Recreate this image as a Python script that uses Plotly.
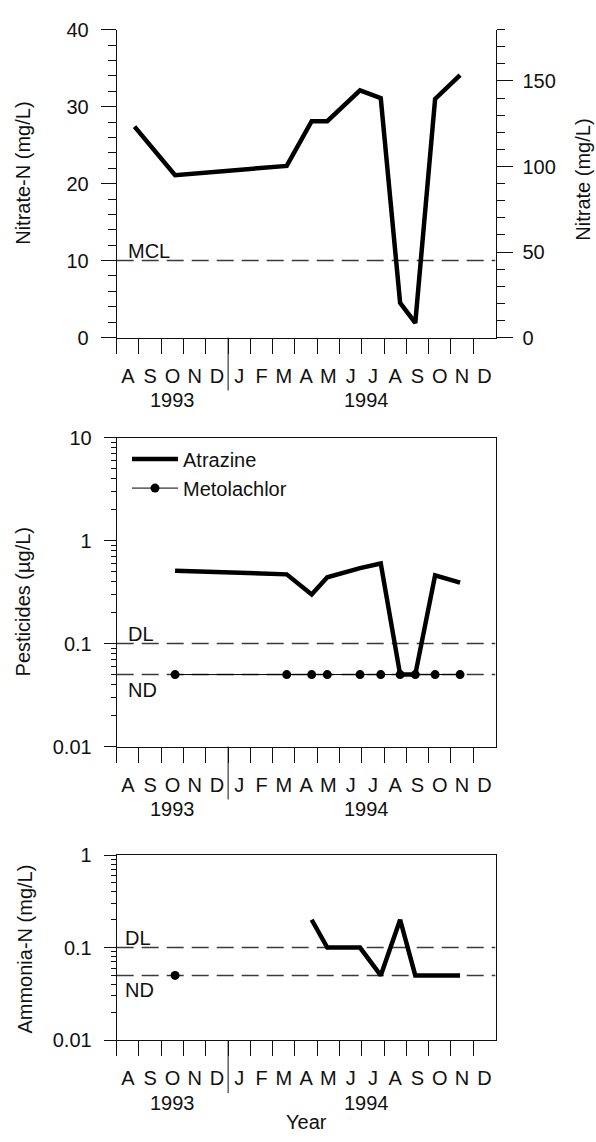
import math
import plotly.graph_objects as go

W, H = 596, 1142
FONT = "Liberation Sans, Arial, Helvetica, sans-serif"
INK = "#111111"
DASH = "#3a3a3a"
FS = 20

# ---------------- data ----------------
# x positions are months elapsed since 1 Aug 1993
months = ["A", "S", "O", "N", "D", "J", "F", "M", "A", "M", "J", "J", "A", "S", "O", "N", "D"]
year_labels = ["1993", "1994"]
year_x = [2.5, 11.2]
jan_1994 = [5]

nitrate_t = [0.80, 2.62, 7.63, 8.75, 9.45, 10.92, 11.85, 12.72, 13.40, 14.29, 15.41]
nitrate_n = [27.4, 21.1, 22.3, 28.1, 28.1, 32.1, 31.1, 4.5, 1.9, 31.0, 34.1]

pest_t = [2.62, 7.63, 8.75, 9.45, 10.92, 11.85, 12.72, 13.40, 14.29, 15.41]
atrazine = [0.51, 0.47, 0.30, 0.44, 0.54, 0.60, 0.05, 0.05, 0.46, 0.39]
metolachlor = [0.05, 0.05, 0.05, 0.05, 0.05, 0.05, 0.05, 0.05, 0.05, 0.05]

ammonia_t = [8.75, 9.45, 10.92, 11.85, 12.72, 13.40, 14.29, 15.41]
ammonia = [0.2, 0.1, 0.1, 0.05, 0.2, 0.05, 0.05, 0.05]
ammonia_nd_t = [2.62]
ammonia_nd = [0.05]

mcl = 10
dl = 0.1
nd = 0.05

# ---------------- geometry (pixels) ----------------
X0, X1 = 116.7, 495.5
TOP = (19, 333)
MID = (435, 750)
BOT = (860.7, 1049.3)


def fx(p):
    return p / W


def fy(p):
    return 1 - p / H


XR = [0, 17]

fig = go.Figure()

# reference lines
fig.add_trace(go.Scatter(x=XR, y=[mcl, mcl], xaxis="x", yaxis="y", mode="lines",
                         line=dict(color=DASH, width=1.5, dash="17px,8px"), showlegend=False, hoverinfo="skip"))
for xa, ya in (("x2", "y2"), ("x3", "y3")):
    for v in (dl, nd):
        fig.add_trace(go.Scatter(x=XR, y=[v, v], xaxis=xa, yaxis=ya, mode="lines",
                                 line=dict(color=DASH, width=1.5, dash="17px,8px"),
                                 showlegend=False, hoverinfo="skip"))

# top panel
fig.add_trace(go.Scatter(x=nitrate_t, y=nitrate_n, xaxis="x", yaxis="y", mode="lines",
                         line=dict(color="black", width=4.5), showlegend=False))
fig.add_trace(go.Scatter(x=[], y=[], xaxis="x", yaxis="y4", showlegend=False))

# middle panel
fig.add_trace(go.Scatter(x=pest_t, y=atrazine, xaxis="x2", yaxis="y2", mode="lines",
                         name="Atrazine", legendgroup="a",
                         line=dict(color="black", width=4.5)))
fig.add_trace(go.Scatter(x=pest_t, y=metolachlor, xaxis="x2", yaxis="y2", mode="lines+markers",
                         name="Metolachlor", legendgroup="b",
                         line=dict(color="black", width=1), marker=dict(color="black", size=9)))

# bottom panel
fig.add_trace(go.Scatter(x=ammonia_t, y=ammonia, xaxis="x3", yaxis="y3", mode="lines",
                         line=dict(color="black", width=4.5), showlegend=False))
fig.add_trace(go.Scatter(x=ammonia_nd_t, y=ammonia_nd, xaxis="x3", yaxis="y3", mode="markers",
                         marker=dict(color="black", size=9), showlegend=False))


def xaxis(anchor, mirror):
    return dict(
        range=XR, domain=[fx(X0), fx(X1)], anchor=anchor,
        showline=True, linecolor=INK, linewidth=1, mirror=mirror,
        tickmode="array", tickvals=[i + 0.5 for i in range(len(months))], ticktext=months,
        ticks="outside", ticklen=15, tickcolor="rgba(0,0,0,0)",
        minor=dict(tickmode="array", tickvals=list(range(len(months))), ticks="outside",
                   ticklen=15, tickwidth=1, tickcolor=INK),
        ticklabelstandoff=5,
        showgrid=False, zeroline=False, tickfont=dict(size=FS, color=INK), fixedrange=True,
    )


log_minor = [m * 10 ** k for k in (-2, -1, 0) for m in range(2, 10)]


def logaxis(anchor, dom, rng, vals):
    return dict(
        type="log", range=rng, domain=[fy(dom[1]), fy(dom[0])], anchor=anchor,
        showline=True, linecolor=INK, linewidth=1, mirror=True,
        tickmode="array", tickvals=vals, ticktext=[("%g" % v) for v in vals],
        ticks="outside", ticklen=12, tickwidth=1, tickcolor=INK,
        minor=dict(tickmode="array", tickvals=log_minor, ticks="outside", ticklen=5,
                   tickwidth=1, tickcolor=INK),
        ticklabelstandoff=8,
        showgrid=False, zeroline=False, tickfont=dict(size=FS, color=INK), fixedrange=True,
    )


fig.update_layout(
    width=W, height=H, margin=dict(l=0, r=0, t=0, b=0),
    paper_bgcolor="white", plot_bgcolor="white",
    font=dict(family=FONT, size=FS, color=INK),
    xaxis=xaxis("y", False),
    xaxis2=xaxis("y2", True),
    xaxis3=xaxis("y3", True),
    yaxis=dict(
        range=[0, 40], domain=[fy(TOP[1]), fy(TOP[0])], anchor="x",
        showline=True, linecolor=INK, linewidth=1,
        tickmode="array", tickvals=[0, 10, 20, 30, 40],
        ticks="outside", ticklen=15, tickwidth=1, tickcolor=INK,
        minor=dict(dtick=2, tick0=0, ticks="outside", ticklen=8, tickwidth=1, tickcolor=INK),
        ticklabelstandoff=8,
        showgrid=False, zeroline=False, tickfont=dict(size=FS, color=INK), fixedrange=True,
    ),
    yaxis4=dict(
        range=[0, 180], overlaying="y", side="right", anchor="x",
        showline=True, linecolor=INK, linewidth=1,
        tickmode="array", tickvals=[0, 50, 100, 150],
        ticks="outside", ticklen=16, tickwidth=1, tickcolor=INK,
        minor=dict(dtick=10, tick0=0, ticks="outside", ticklen=8, tickwidth=1, tickcolor=INK),
        ticklabelstandoff=6,
        showgrid=False, zeroline=False, tickfont=dict(size=FS, color=INK), fixedrange=True,
    ),
    yaxis2=logaxis("x2", MID, [-2, 1], [0.01, 0.1, 1, 10]),
    yaxis3=logaxis("x3", BOT, [-2, 0], [0.01, 0.1, 1]),
    legend=dict(x=fx(127), y=fy(437), xanchor="left", yanchor="top",
                bgcolor="rgba(0,0,0,0)", font=dict(size=FS, color=INK),
                itemwidth=46, tracegroupgap=0),
    showlegend=True,
)

ann = []
shapes = []
# year labels and January separators
for xa, (t, b) in (("x", TOP), ("x2", MID), ("x3", BOT)):
    for lab, xv in zip(year_labels, year_x):
        ann.append(dict(text=lab, xref=xa, yref="paper", x=xv, y=fy(b + 64),
                        showarrow=False, xanchor="center", yanchor="middle",
                        font=dict(size=FS, color=INK)))
    for j in jan_1994:
        shapes.append(dict(type="line", xref=xa, yref="paper", x0=j, x1=j,
                           y0=fy(b), y1=fy(b + 54), line=dict(color=INK, width=1)))

# axis titles
titles = [
    ("Nitrate-N (mg/L)", 23, 166),
    ("Nitrate (mg/L)", 583, 172),
    ("Pesticides (µg/L)", 23, 603),
    ("Ammonia-N (mg/L)", 25, 957),
]
for txt, xp, yp in titles:
    ann.append(dict(text=txt, xref="paper", yref="paper", x=fx(xp), y=fy(yp),
                    showarrow=False, textangle=-90, xanchor="center", yanchor="middle",
                    font=dict(size=FS, color=INK)))
ann.append(dict(text="Year", xref="x3", yref="paper", x=8.5, y=fy(1133), showarrow=False,
                xanchor="center", yanchor="middle", font=dict(size=FS, color=INK)))

# threshold labels
ann.append(dict(text="MCL", xref="x", yref="y", x=0.4, y=mcl, xanchor="left", yanchor="bottom",
                showarrow=False, font=dict(size=FS, color=INK), yshift=-3))
for xa, ya, xl in (("x2", "y2", 0.4), ("x3", "y3", 0.27)):
    ann.append(dict(text="DL", xref=xa, yref=ya, x=xl, y=math.log10(dl), xanchor="left",
                    yanchor="bottom", showarrow=False, font=dict(size=FS, color=INK), yshift=-3))
    ann.append(dict(text="ND", xref=xa, yref=ya, x=xl, y=math.log10(nd), xanchor="left",
                    yanchor="top", showarrow=False, font=dict(size=FS, color=INK), yshift=-2))

fig.update_layout(annotations=ann, shapes=shapes)

fig.write_html("out.html")
